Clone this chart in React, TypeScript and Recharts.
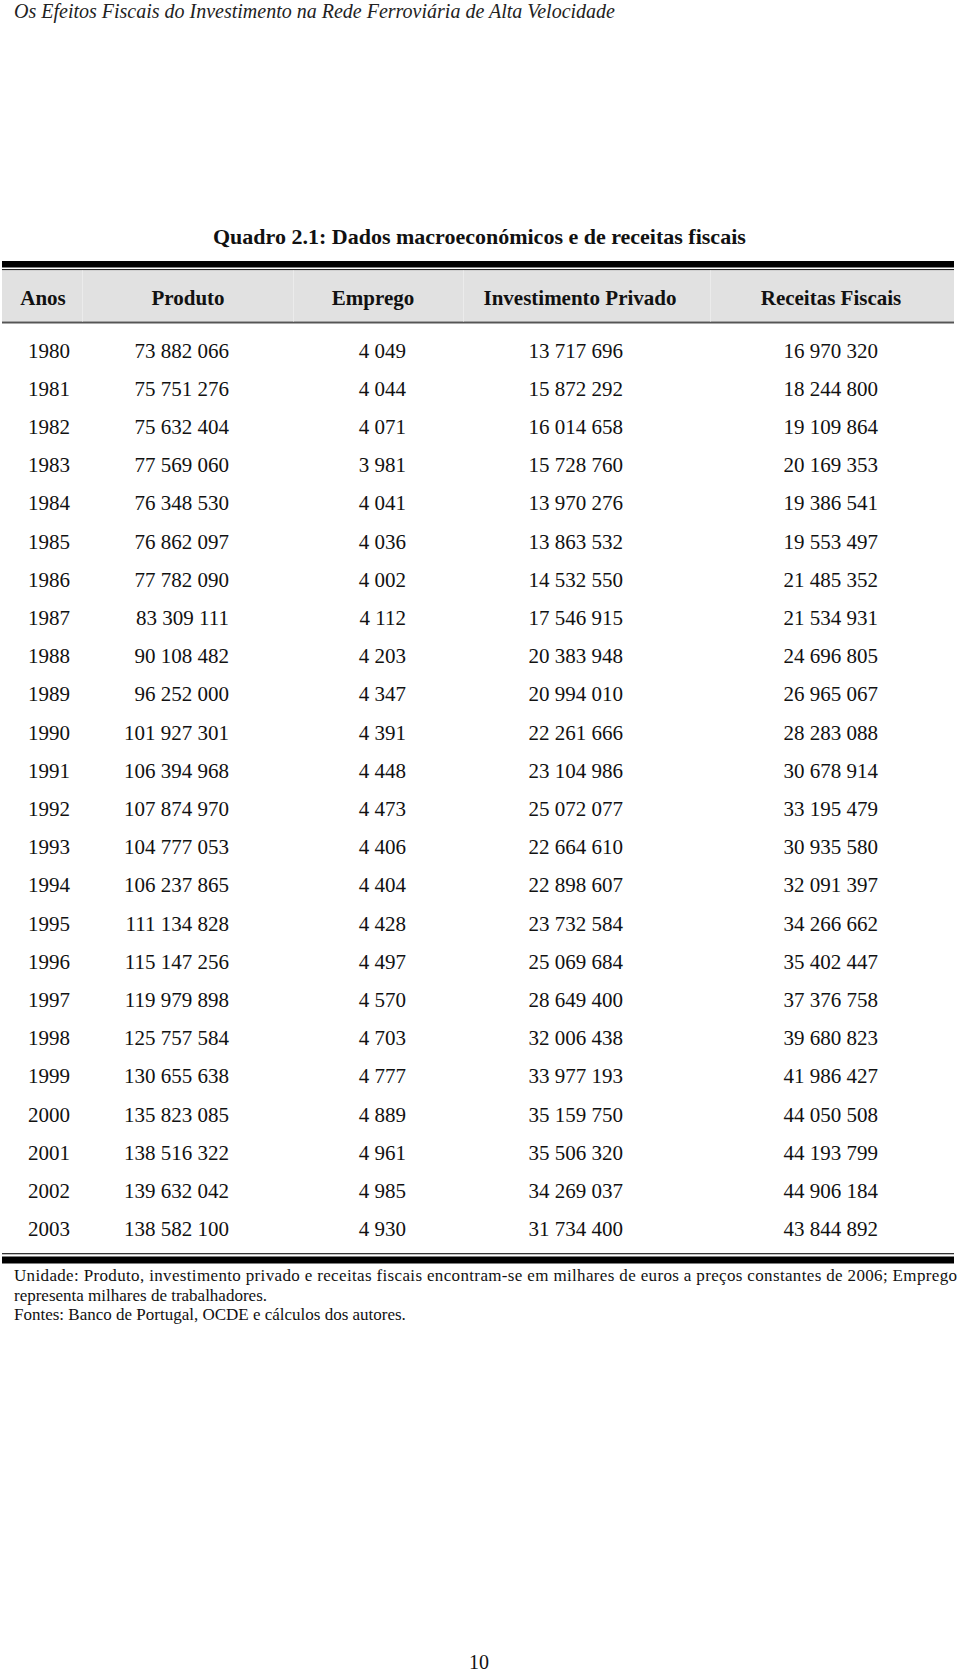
import React from 'react';
import { ScatterChart, Scatter, XAxis, YAxis } from 'recharts';

const YEARS = [
  '1980', '1981', '1982', '1983', '1984', '1985', '1986', '1987', '1988', '1989', '1990', '1991',
  '1992', '1993', '1994', '1995', '1996', '1997', '1998', '1999', '2000', '2001', '2002', '2003',
];
const PRODUTO = [
  73882066, 75751276, 75632404, 77569060, 76348530, 76862097, 77782090, 83309111, 90108482, 96252000,
  101927301, 106394968, 107874970, 104777053, 106237865, 111134828, 115147256, 119979898, 125757584,
  130655638, 135823085, 138516322, 139632042, 138582100,
];
const EMPREGO = [
  4049, 4044, 4071, 3981, 4041, 4036, 4002, 4112, 4203, 4347, 4391, 4448,
  4473, 4406, 4404, 4428, 4497, 4570, 4703, 4777, 4889, 4961, 4985, 4930,
];
const INVESTIMENTO = [
  13717696, 15872292, 16014658, 15728760, 13970276, 13863532, 14532550, 17546915, 20383948, 20994010,
  22261666, 23104986, 25072077, 22664610, 22898607, 23732584, 25069684, 28649400, 32006438, 33977193,
  35159750, 35506320, 34269037, 31734400,
];
const RECEITAS = [
  16970320, 18244800, 19109864, 20169353, 19386541, 19553497, 21485352, 21534931, 24696805, 26965067,
  28283088, 30678914, 33195479, 30935580, 32091397, 34266662, 35402447, 37376758, 39680823, 41986427,
  44050508, 44193799, 44906184, 43844892,
];
const HEADERS = ['Anos', 'Produto', 'Emprego', 'Investimento Privado', 'Receitas Fiscais'];

const PAGE_TITLE = 'Os Efeitos Fiscais do Investimento na Rede Ferroviária de Alta Velocidade';
const TABLE_TITLE = 'Quadro 2.1: Dados macroeconómicos e de receitas fiscais';
const NOTE_1 = 'Unidade: Produto, investimento privado e receitas fiscais encontram-se em milhares de euros a preços constantes de 2006; Emprego';
const NOTE_2 = 'representa milhares de trabalhadores.';
const NOTE_3 = 'Fontes: Banco de Portugal, OCDE e cálculos dos autores.';
const PAGE_NO = '10';

// layout
const W = 960;
const H = 1673;
const FONT = '"Liberation Serif", "Times New Roman", serif';
const HEADER_CENTERS = [43, 188, 373, 580, 831];
const COL_SEPS = [82, 293, 463, 710];
// anchor x of each column (years centred, numbers right-aligned)
const COL_ANCHOR = [49, 229, 406, 623, 878];

const fmt = (n: number) => String(n).replace(/\B(?=(\d{3})+(?!\d))/g, ' ');

const columns = [
  YEARS.map((y) => y),
  PRODUTO.map(fmt),
  EMPREGO.map(fmt),
  INVESTIMENTO.map(fmt),
  RECEITAS.map(fmt),
];

const seriesData = columns.map((col, ci) =>
  col.map((label, ri) => ({ x: COL_ANCHOR[ci], year: YEARS[ri], label }))
);

const cellShape = (anchor: 'middle' | 'end') => (props: any) => (
  <text
    x={props.cx}
    y={props.cy + 7}
    textAnchor={anchor}
    fontFamily={FONT}
    fontSize={21}
    fill="#111"
  >
    {props.payload.label}
  </text>
);

function Decoration() {
  return (
    <svg width={W} height={H} style={{ position: 'absolute', left: 0, top: 0 }}>
      <text x={14} y={18} fontFamily={FONT} fontStyle="italic" fontSize={20} fill="#222">{PAGE_TITLE}</text>
      <text x={213} y={244} fontFamily={FONT} fontWeight="bold" fontSize={22} fill="#111">{TABLE_TITLE}</text>

      {/* header band */}
      <rect x={2} y={261} width={952} height={6.5} fill="#000" />
      <rect x={2} y={269} width={952} height={1.3} fill="#222" />
      <rect x={2} y={270.5} width={952} height={51} fill="#e1e1e1" />
      <rect x={2} y={321.5} width={952} height={2} fill="#555" />
      {COL_SEPS.map((x) => (
        <rect key={x} x={x} y={270.5} width={1} height={51} fill="#ebebeb" />
      ))}
      {HEADERS.map((h, i) => (
        <text key={h} x={HEADER_CENTERS[i]} y={305} textAnchor="middle" fontFamily={FONT} fontWeight="bold" fontSize={21} fill="#111">
          {h}
        </text>
      ))}

      {/* bottom rules */}
      <rect x={2} y={1253} width={952} height={1.3} fill="#333" />
      <rect x={2} y={1256.5} width={952} height={7} fill="#000" />

      <text x={14} y={1281} fontFamily={FONT} fontSize={17} fill="#111" textLength={943} lengthAdjust="spacing">{NOTE_1}</text>
      <text x={14} y={1300.5} fontFamily={FONT} fontSize={17} fill="#111">{NOTE_2}</text>
      <text x={14} y={1320} fontFamily={FONT} fontSize={17} fill="#111">{NOTE_3}</text>

      <text x={479} y={1669} textAnchor="middle" fontFamily={FONT} fontSize={20} fill="#111">{PAGE_NO}</text>
    </svg>
  );
}

export default function App() {
  return (
    <div style={{ position: 'absolute', left: 0, top: 0, width: W, height: H, background: '#fff' }}>
      <Decoration />
      <div style={{ position: 'absolute', left: 0, top: 0 }}>
        <ScatterChart width={W} height={H} margin={{ top: 331.4, right: 0, bottom: 424.8, left: 0 }}>
          <XAxis type="number" dataKey="x" domain={[0, W]} hide />
          <YAxis type="category" dataKey="year" allowDuplicatedCategory={false} reversed hide />
          {seriesData.map((d, i) => (
            <Scatter
              key={i}
              data={d}
              isAnimationActive={false}
              shape={cellShape(i === 0 ? 'middle' : 'end')}
            />
          ))}
        </ScatterChart>
      </div>
    </div>
  );
}
